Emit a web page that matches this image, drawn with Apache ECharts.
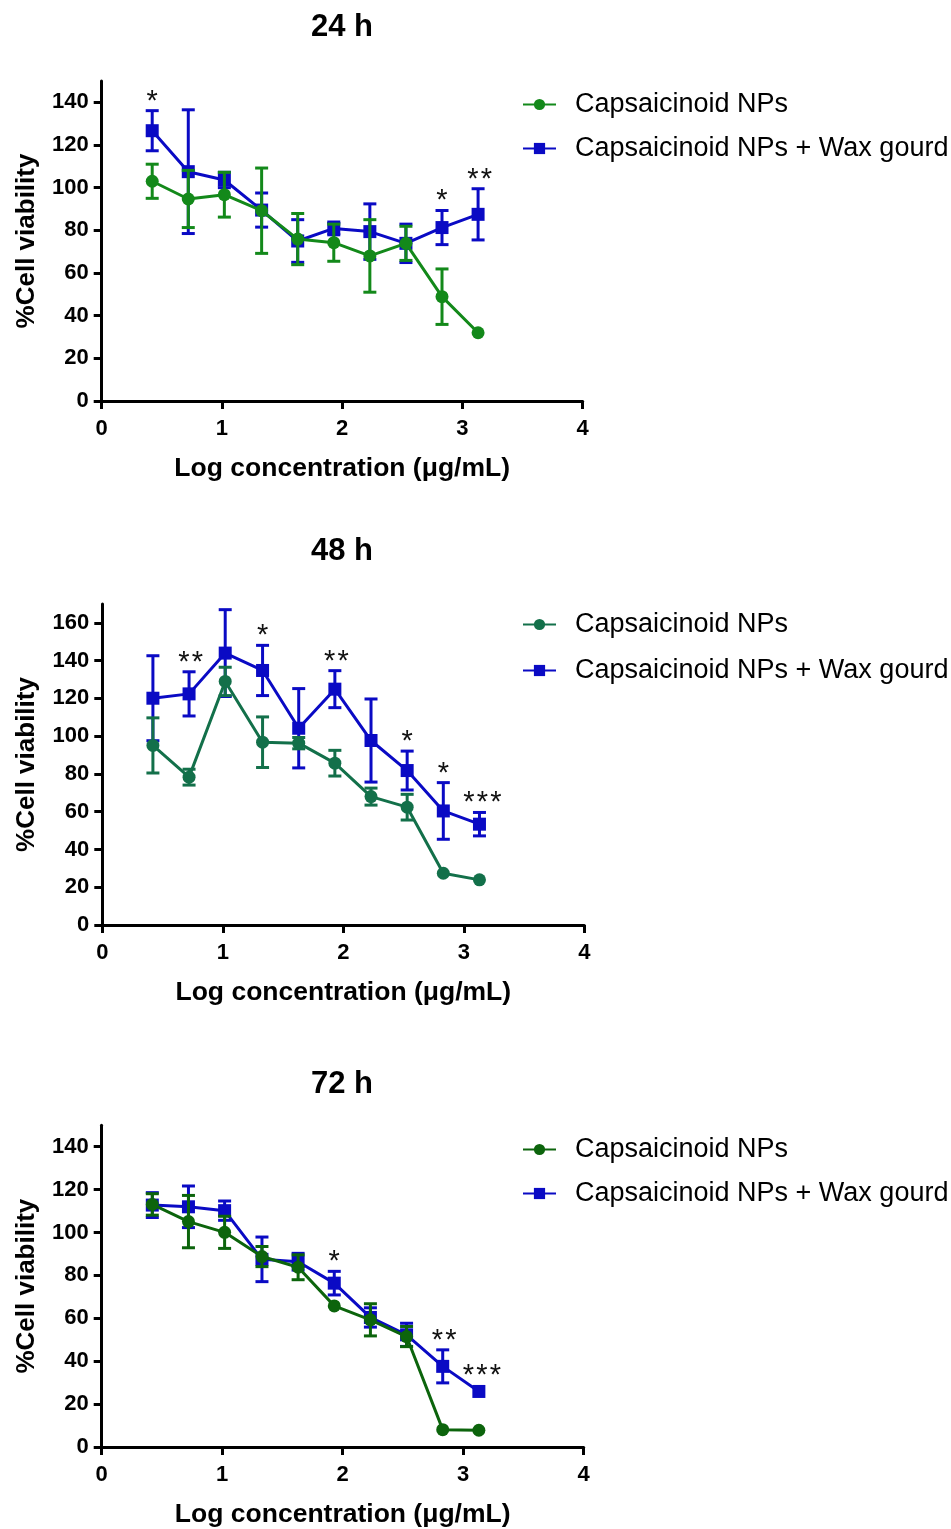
<!DOCTYPE html>
<html>
<head>
<meta charset="utf-8">
<script src="https://cdn.jsdelivr.net/npm/echarts@6/dist/echarts.min.js"></script>
<style>
html,body{margin:0;padding:0;background:#fff;}
#chart{width:951px;height:1529px;}
</style>
</head>
<body>
<div id="chart"></div>
<script>
// ---- data ----
const xLog = [0.42, 0.72, 1.02, 1.33, 1.63, 1.93, 2.23, 2.53, 2.83, 3.13];
const xTicks = [0, 1, 2, 3, 4];
const yTicks24 = [0, 20, 40, 60, 80, 100, 120, 140];
const yTicks48 = [0, 20, 40, 60, 80, 100, 120, 140, 160];
const yTicks72 = [0, 20, 40, 60, 80, 100, 120, 140];

const panelTitles = ['24 h', '48 h', '72 h'];
const seriesNames = ['Capsaicinoid NPs', 'Capsaicinoid NPs + Wax gourd'];

const np24    = [103, 94.7, 96.7, 89.2, 75.9, 74.2, 68, 73.9, 48.9, 32];
const np24Err = [8, 13.4, 10.5, 20, 12, 8.7, 17, 8, 13, 0];
const wg24    = [126.7, 107.5, 103.6, 89.5, 75, 80.9, 79.4, 73.9, 81.3, 87.5];
const wg24Err = [9.4, 29, 3.6, 8, 10, 3, 13, 9, 8, 12];
const sig24   = ['*', '', '', '', '', '', '', '', '*', '**'];

const np48    = [95.1, 78.3, 129, 96.8, 96.3, 85.7, 68, 62.4, 27.4, 23.9];
const np48Err = [14.6, 4.2, 7.5, 13.4, 3, 6.8, 4.5, 6.8, 0, 0];
const wg48    = [120.1, 122.4, 144, 134.8, 104.2, 124.9, 97.7, 81.8, 60.4, 53.4];
const wg48Err = [22.5, 11.7, 23, 13.3, 21, 9.8, 22, 10.3, 15, 6.2];
const sig48   = ['', '**', '', '*', '', '**', '', '*', '*', '***'];

const np72    = [113.1, 105.1, 100.1, 88.8, 83.8, 65.8, 59.3, 51.5, 8.1, 7.8];
const np72Err = [5, 12.2, 7.5, 4.7, 5.8, 0, 7.5, 4.7, 0, 0];
const wg72    = [112.8, 112, 110.2, 87.5, 86.4, 76.4, 60.4, 52.3, 37.6, 25.9];
const wg72Err = [5.8, 9.7, 4.5, 10.4, 3.9, 5.5, 4.5, 5.4, 7.7, 0];
const sig72   = ['', '', '', '', '', '*', '', '', '**', '***'];

// ---- styling ----
const FONT = '"Liberation Sans", Arial, sans-serif';
const BLUE = '#0a0ac4';
const greens = ['#13891a', '#13704a', '#0c640c'];

const panels = [
  {np: np24, npE: np24Err, wg: wg24, wgE: wg24Err, sig: sig24, yTicks: yTicks24, yMax: 150,
   grid: {left: 101.7, top: 81, width: 481, height: 320}, titleTop: 7, legendTop: 89, legendGap: 17},
  {np: np48, npE: np48Err, wg: wg48, wgE: wg48Err, sig: sig48, yTicks: yTicks48, yMax: 170,
   grid: {left: 102.3, top: 604, width: 482, height: 321}, titleTop: 531, legendTop: 609, legendGap: 19},
  {np: np72, npE: np72Err, wg: wg72, wgE: wg72Err, sig: sig72, yTicks: yTicks72, yMax: 150,
   grid: {left: 101.7, top: 1125.3, width: 482, height: 322}, titleTop: 1064, legendTop: 1134, legendGap: 17}
];

function zip(vals, errs, sig) {
  return xLog.map((x, i) => [x, vals[i], errs[i], sig ? sig[i] : '']);
}

function errorRender(color) {
  return function (params, api) {
    const x = api.value(0), y = api.value(1), e = api.value(2);
    if (!e) return null;
    const top = api.coord([x, y + e]);
    const bot = api.coord([x, y - e]);
    const hw = 6.5;
    const st = {stroke: color, lineWidth: 3};
    return {
      type: 'group',
      children: [
        {type: 'line', shape: {x1: top[0], y1: top[1], x2: bot[0], y2: bot[1]}, style: st},
        {type: 'line', shape: {x1: top[0] - hw, y1: top[1], x2: top[0] + hw, y2: top[1]}, style: st},
        {type: 'line', shape: {x1: bot[0] - hw, y1: bot[1], x2: bot[0] + hw, y2: bot[1]}, style: st}
      ]
    };
  };
}

function sigRender(params, api) {
  const x = api.value(0), y = api.value(1), e = api.value(2);
  const s = String(api.value(3) || '');
  if (!s) return null;
  const p = api.coord([x, y + (e || 0)]);
  const yTop = e ? p[1] : p[1] - 6.5;
  const n = s.length, step = 13.5;
  const cx = p[0] + (n > 1 ? n - 1 : 0) * 1.5;
  const children = [];
  for (let i = 0; i < n; i++) {
    children.push({
      type: 'text',
      x: cx + (i - (n - 1) / 2) * step, y: yTop - 9,
      style: {text: s[i], fill: '#111', fontSize: 29, fontFamily: '"Liberation Sans"',
              align: 'center', verticalAlign: 'middle'}
    });
  }
  return {type: 'group', children: children};
}

const option = {
  backgroundColor: '#fff',
  animation: false,
  title: [], grid: [], xAxis: [], yAxis: [], legend: [], series: []
};

panels.forEach((p, k) => {
  const green = greens[k];
  const suffix = k ? '\u200b'.repeat(k) : '';
  option.title.push({
    text: panelTitles[k], left: 306, top: p.titleTop,
    textStyle: {fontFamily: FONT, fontWeight: 'bold', fontSize: 31, color: '#000'}
  });
  option.grid.push(Object.assign({containLabel: false}, p.grid));
  option.xAxis.push({
    type: 'value', gridIndex: k, min: 0, max: 4, interval: 1,
    name: 'Log concentration (\u03bcg/mL)', nameLocation: 'middle', nameGap: 54,
    nameTextStyle: {fontFamily: FONT, fontWeight: 'bold', fontSize: 26.5, color: '#000'},
    axisLine: {show: true, onZero: false, lineStyle: {color: '#000', width: 3}},
    axisTick: {show: true, length: 8, lineStyle: {color: '#000', width: 3}, customValues: xTicks},
    axisLabel: {margin: 17, fontFamily: FONT, fontWeight: 'bold', fontSize: 22, color: '#000', customValues: xTicks},
    splitLine: {show: false}
  });
  option.yAxis.push({
    type: 'value', gridIndex: k, min: 0, max: p.yMax, interval: 20,
    name: '%Cell viability', nameLocation: 'middle', nameGap: 62,
    nameTextStyle: {fontFamily: FONT, fontWeight: 'bold', fontSize: 26, color: '#000'},
    axisLine: {show: true, onZero: false, lineStyle: {color: '#000', width: 3}},
    axisTick: {show: true, length: 8, lineStyle: {color: '#000', width: 3}, customValues: p.yTicks},
    axisLabel: {margin: 13, fontFamily: FONT, fontWeight: 'bold', fontSize: 22, color: '#000', customValues: p.yTicks},
    splitLine: {show: false}
  });
  option.legend.push({
    orient: 'vertical', left: 517, top: p.legendTop - 3, itemGap: p.legendGap,
    itemWidth: 33, itemHeight: 14,
    data: [seriesNames[0] + suffix, seriesNames[1] + suffix],
    textStyle: {fontFamily: FONT, fontSize: 27, color: '#000', lineHeight: 26, padding: [0, 0, 0, 14]},
    selectedMode: false
  });
  // blue (wax gourd) first, green on top
  option.series.push({
    type: 'custom', xAxisIndex: k, yAxisIndex: k, z: 2,
    renderItem: errorRender(BLUE), data: zip(p.wg, p.wgE), silent: true
  });
  option.series.push({
    name: seriesNames[1] + suffix, type: 'line', xAxisIndex: k, yAxisIndex: k, z: 3,
    data: xLog.map((x, i) => [x, p.wg[i]]),
    symbol: 'rect', symbolSize: 13, color: BLUE,
    lineStyle: {color: BLUE, width: 3}, itemStyle: {color: BLUE}
  });
  option.series.push({
    type: 'custom', xAxisIndex: k, yAxisIndex: k, z: 4,
    renderItem: errorRender(green), data: zip(p.np, p.npE), silent: true
  });
  option.series.push({
    name: seriesNames[0] + suffix, type: 'line', xAxisIndex: k, yAxisIndex: k, z: 5,
    data: xLog.map((x, i) => [x, p.np[i]]),
    symbol: 'circle', symbolSize: 13, color: green,
    lineStyle: {color: green, width: 3}, itemStyle: {color: green}
  });
  option.series.push({
    type: 'custom', xAxisIndex: k, yAxisIndex: k, z: 6,
    renderItem: sigRender, data: zip(p.wg, p.wgE, p.sig), silent: true,
    dimensions: ['x', 'y', 'e', {name: 's', type: 'ordinal'}]
  });
});

const chart = echarts.init(document.getElementById('chart'), null, {renderer: 'canvas'});
chart.setOption(option);
</script>
</body>
</html>
